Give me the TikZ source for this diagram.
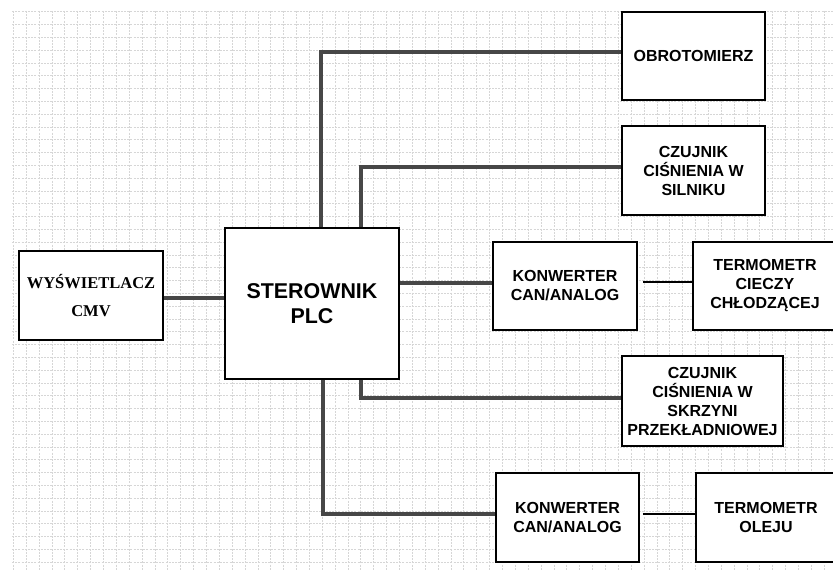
\documentclass[tikz,border=0pt]{standalone}
\usepackage{fontspec}
\setmainfont{Liberation Serif}
\newfontfamily\arialf{Liberation Sans}
\begin{document}
\begin{tikzpicture}[x=1pt,y=-1pt,
  box/.style={draw=black,line width=1.8pt,fill=white,rectangle,inner sep=0pt,align=center,
    font=\arialf\bfseries\fontsize{16}{19}\selectfont},
  wire/.style={draw=black!72,line width=3.4pt},
  thinwire/.style={draw=black,line width=1.4pt},
  gridline/.style={draw=black!16,line width=0.6pt,dash pattern=on 2pt off 1.2pt}]
\useasboundingbox (0,0) rectangle (833,572);
\fill[white] (0,0) rectangle (833,572);
% grid
\foreach \i in {0,...,63} {
  \pgfmathsetmacro\gx{13.3+12.87*\i}
  \ifdim\gx pt<833pt
    \draw[gridline] (\gx,11) -- (\gx,570);
  \fi
}
\foreach \j in {0,...,43} {
  \pgfmathsetmacro\gy{11.7+12.8*\j}
  \ifdim\gy pt<571pt
    \draw[gridline] (12,\gy) -- (833,\gy);
  \fi
}
% nodes
\node[box,minimum width=144pt,minimum height=89pt,font=\bfseries\fontsize{16.5}{28}\selectfont] (wys) at (91,295.5) {WYŚWIETLACZ\\CMV};
\node[box,minimum width=174pt,minimum height=151pt,font=\arialf\bfseries\fontsize{21.4}{25}\selectfont] (plc) at (312,303.5) {STEROWNIK\\PLC};
\node[box,minimum width=143pt,minimum height=88pt] (obr) at (693.5,56) {OBROTOMIERZ};
\node[box,minimum width=143pt,minimum height=89pt] (czs) at (693.5,170.5) {CZUJNIK\\CIŚNIENIA W\\SILNIKU};
\node[box,minimum width=144pt,minimum height=88pt] (kon1) at (565,286) {KONWERTER\\CAN/ANALOG};
\node[box,minimum width=144pt,minimum height=88pt] (ter1) at (765,286) {TERMOMETR\\CIECZY\\CHŁODZĄCEJ};
\node[box,minimum width=161pt,minimum height=90pt] (czk) at (702.5,401) {CZUJNIK\\CIŚNIENIA W\\SKRZYNI\\PRZEKŁADNIOWEJ};
\node[box,minimum width=143pt,minimum height=89pt] (kon2) at (567.5,517.5) {KONWERTER\\CAN/ANALOG};
\node[box,minimum width=140pt,minimum height=89pt] (ter2) at (766,517.5) {TERMOMETR\\OLEJU};
\coordinate (k1in) at ([yshift=3pt]kon1.west);
% connectors
\draw[wire] (wys.east |- 0,298) -- (plc.west |- 0,298);
\draw[wire] (plc.north -| 321,0) |- ([yshift=4pt]obr.west);
\draw[wire] (plc.north -| 361,0) |- ([yshift=3.5pt]czs.west);
\draw[wire] (plc.east |- k1in) -- (k1in);
\draw[thinwire,shorten <=5pt] ([yshift=4pt]kon1.east) -- ([yshift=4pt]ter1.west);
\draw[wire] (plc.south -| 361,0) |- ([yshift=3pt]czk.west);
\draw[wire] (plc.south -| 323,0) |- ([yshift=3.5pt]kon2.west);
\draw[thinwire,shorten <=3pt] ([yshift=3.5pt]kon2.east) -- ([yshift=3.5pt]ter2.west);
\end{tikzpicture}
\end{document}
